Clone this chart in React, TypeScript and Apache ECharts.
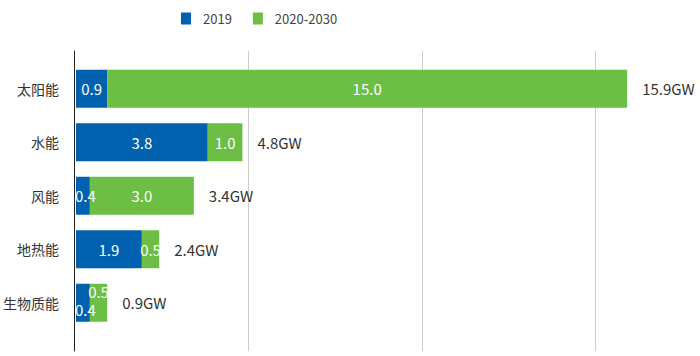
import React, { useEffect, useRef } from 'react';
import * as echarts from 'echarts';

const categories = ['太阳能', '水能', '风能', '地热能', '生物质能'];
const values2019 = [0.9, 3.8, 0.4, 1.9, 0.4];
const values2030 = [15.0, 1.0, 3.0, 0.5, 0.5];
const seriesNames = ['2019', '2020-2030'];
const unit = 'GW';

const BLUE = '#0062AF';
const GREEN = '#6DBE45';
const FONT = '"Noto Sans CJK SC", "Noto Sans", sans-serif';
const LEGEND_FONT = '"Liberation Sans Narrow", "Noto Sans CJK SC", sans-serif';
const GRID_LEFT = 74;
const AXIS_MAX = 18;

export default function App() {
  const ref = useRef<HTMLDivElement>(null);
  useEffect(() => {
    if (!ref.current) return;
    const chart = echarts.init(ref.current, null, { renderer: 'svg' });
    const totals = values2019.map((v, i) => (v + values2030[i]).toFixed(1) + unit);
    const clampLeft = (p: any) => {
      const r = p.labelRect;
      if (r && r.x < GRID_LEFT + 1) return { dx: GRID_LEFT + 1 - r.x };
      return {};
    };
    chart.setOption({
      animation: false,
      textStyle: { fontFamily: FONT },
      legend: {
        data: seriesNames,
        top: 12,
        left: 181,
        padding: 0,
        icon: 'rect',
        itemWidth: 10,
        itemHeight: 12,
        itemGap: 21,
        textStyle: { fontSize: 13, color: '#444', fontFamily: LEGEND_FONT, padding: [0, 0, 0, 7] },
      },
      grid: [
        { left: GRID_LEFT, right: 0, top: 51, bottom: 5 },
        { left: GRID_LEFT, right: 0, top: 62, bottom: 26.5 },
      ],
      xAxis: [
        {
          type: 'value', gridIndex: 0, min: 0, max: AXIS_MAX, interval: 5,
          axisLine: { show: false }, axisTick: { show: false }, axisLabel: { show: false },
          splitLine: { show: true, showMinLine: false, showMaxLine: false, lineStyle: { color: '#cccccc', width: 1 } },
        },
        {
          type: 'value', gridIndex: 1, min: 0, max: AXIS_MAX, interval: 5,
          axisLine: { show: false }, axisTick: { show: false }, axisLabel: { show: false },
          splitLine: { show: false },
        },
      ],
      yAxis: [
        {
          type: 'value', gridIndex: 0, min: 0, max: 1,
          axisLine: { show: true, lineStyle: { color: '#222', width: 1 } },
          axisTick: { show: false }, axisLabel: { show: false }, splitLine: { show: false },
        },
        {
          type: 'category', gridIndex: 1, data: categories, inverse: true,
          axisLine: { show: false }, axisTick: { show: false }, splitLine: { show: false },
          axisLabel: { color: '#333', fontSize: 14, margin: 17, fontFamily: FONT },
        },
      ],
      series: [
        {
          name: seriesNames[0], type: 'bar', xAxisIndex: 1, yAxisIndex: 1, stack: 'total',
          barWidth: 38, data: values2019, itemStyle: { color: BLUE },
          label: {
            show: true, position: 'inside', color: '#fff', fontSize: 15, fontFamily: FONT,
            formatter: (p: any) => Number(p.value).toFixed(1),
          },
          labelLayout: (p: any) => {
            const o: any = clampLeft(p);
            if (p.dataIndex === 4) o.dy = 7;
            return o;
          },
        },
        {
          name: seriesNames[1], type: 'bar', xAxisIndex: 1, yAxisIndex: 1, stack: 'total',
          barWidth: 38, data: values2030, itemStyle: { color: GREEN },
          label: {
            show: true, position: 'inside', color: '#fff', fontSize: 15, fontFamily: FONT,
            formatter: (p: any) => Number(p.value).toFixed(1),
          },
          labelLayout: (p: any) => (p.dataIndex === 4 ? { dy: -11 } : {}),
        },
        {
          name: 'total', type: 'bar', xAxisIndex: 1, yAxisIndex: 1, stack: 'total',
          barWidth: 38, data: categories.map(() => 0),
          itemStyle: { color: 'rgba(0,0,0,0)' },
          label: {
            show: true, position: 'right', distance: 15, color: '#333', fontSize: 15, fontFamily: FONT,
            formatter: (p: any) => totals[p.dataIndex],
          },
          silent: true,
        },
      ],
    });
    return () => chart.dispose();
  }, []);
  return <div ref={ref} style={{ width: 700, height: 356, position: 'absolute', left: 0, top: 0 }} />;
}
